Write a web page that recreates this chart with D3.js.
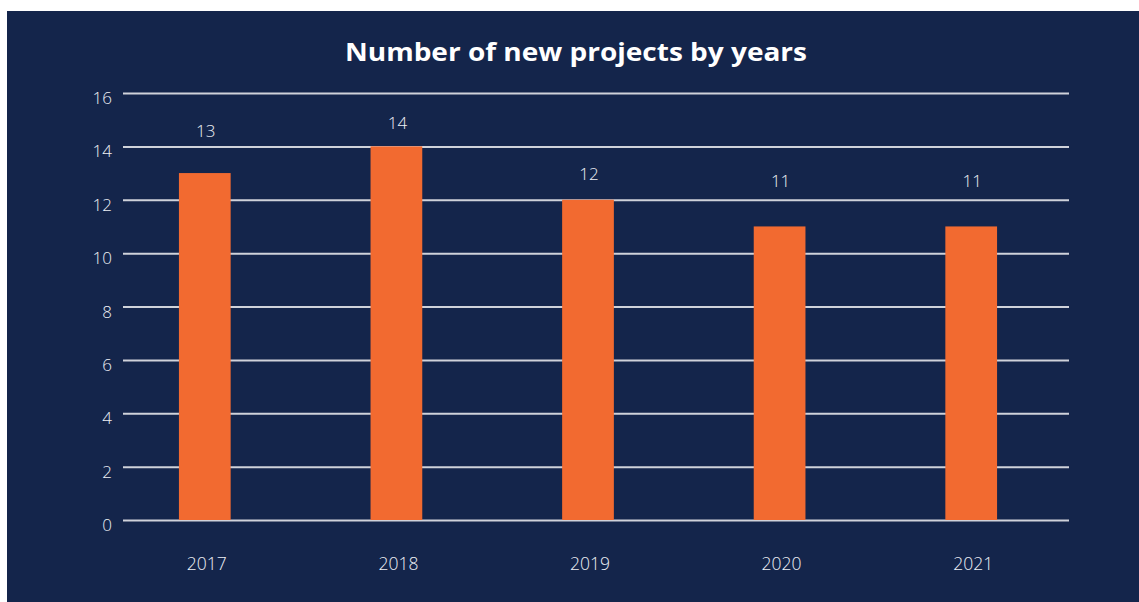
<!DOCTYPE html>
<html><head><meta charset="utf-8">
<script src="https://cdn.jsdelivr.net/npm/d3@7"></script>
<style>html,body{margin:0;padding:0;background:#fff;}</style>
</head><body>
<script>
const years = ["2017","2018","2019","2020","2021"];
const projects = [13, 14, 12, 11, 11];
const yTicks = [0,2,4,6,8,10,12,14,16];
const title = "Number of new projects by years";

// layout tweaks for value-label placement (pixels above bar top)
const labelLift = [43, 24, 26, 46, 46];

const W = 1139, H = 602;
const svg = d3.select("body").append("svg").attr("width", W).attr("height", H);
svg.append("rect").attr("x",7).attr("y",11).attr("width",W-7).attr("height",H-11).attr("fill","#14254b");

const x = d3.scaleBand().domain(years).range([109,1067]).paddingInner(0.73).paddingOuter(0.365);
const y = d3.scaleLinear().domain([0,16]).range([520,93]);

const font = "'Open Sans', sans-serif";
const textCol = "#eef0f5";

svg.append("text").attr("x",576).attr("y",61).attr("text-anchor","middle")
  .attr("font-family","'Open Sans', sans-serif").attr("font-weight",700).attr("font-size",25)
  .attr("fill","#ffffff").attr("textLength",462).attr("lengthAdjust","spacingAndGlyphs").text(title);

const yAxis = d3.axisLeft(y).tickValues(yTicks).tickSize(-(1069-123)).tickPadding(11);
const gy = svg.append("g").attr("transform","translate(123,0)").call(yAxis);
gy.select(".domain").remove();
gy.selectAll(".tick line").attr("stroke","#cfd2da").attr("stroke-width",2);
gy.selectAll(".tick text").attr("fill",textCol).attr("font-family",font).attr("font-weight",300).attr("font-size",17).attr("dy","0.62em");

svg.selectAll("rect.bar").data(projects).enter().append("rect").attr("class","bar")
  .attr("x",(d,i)=>x(years[i])).attr("width",x.bandwidth())
  .attr("y",d=>y(d)).attr("height",d=>y(0)-y(d)).attr("fill","#f26a30");

svg.selectAll("text.val").data(projects).enter().append("text").attr("class","val")
  .attr("x",(d,i)=>x(years[i])+x.bandwidth()/2+1).attr("y",(d,i)=>y(d)-labelLift[i])
  .attr("text-anchor","middle").attr("dominant-baseline","central")
  .attr("fill",textCol).attr("font-family",font).attr("font-weight",300).attr("font-size",17).text(d=>d);

const xAxis = d3.axisBottom(x).tickSize(0).tickPadding(0);
const gx = svg.append("g").attr("transform","translate(2,558)").call(xAxis);
gx.select(".domain").remove();
gx.selectAll(".tick text").attr("fill",textCol).attr("font-family",font).attr("font-weight",300).attr("font-size",17.5);
</script>
</body></html>
